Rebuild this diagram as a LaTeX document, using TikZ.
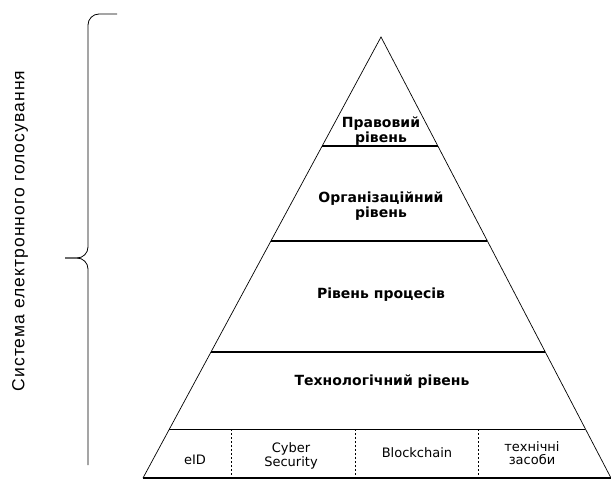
\documentclass[tikz,border=0pt]{standalone}
\usepackage{fontspec}
\setmainfont{DejaVu Sans}
\newfontfamily\sidefont[LetterSpace=6]{Liberation Sans}
\usepackage{tikz}
\usetikzlibrary{calc,positioning}

\begin{document}
\begin{tikzpicture}[
        x=1pt, y=-1pt,
        level/.style={font=\bfseries\fontsize{14}{15.5}\selectfont, align=center, inner sep=1pt},
        tech/.style={font=\fontsize{13}{13.5}\selectfont, align=center, inner sep=1pt},
        bar/.style={line width=1.6pt},
        split/.style={dash pattern=on 2pt off 2pt, line width=0.6pt}
    ]
    \useasboundingbox (0,0) rectangle (611,495);

    % Pyramid
    \coordinate (apex) at (381,37);
    \coordinate (bl) at (143,478);
    \coordinate (br) at (611,478);
    \draw[line width=0.7pt] (bl) -- (apex) -- (br);
    \draw[line width=1.1pt] (bl) -- (br);

    % Level borders
    \draw[bar] ($(apex)!0.247!(bl)$) -- ($(apex)!0.247!(br)$);
    \draw[bar] ($(apex)!0.4626!(bl)$) -- ($(apex)!0.4626!(br)$);
    \draw[bar] ($(apex)!0.714!(bl)$) -- ($(apex)!0.714!(br)$);
    \draw[line width=0.6pt] ($(apex)!0.889!(bl)$) -- ($(apex)!0.889!(br)$);

    % Levels
    \node[level] (legal) at (381,131) {Правовий\\рівень};
    \node[level] (org) at (381,206) {Організаційний\\рівень};
    \node[level] (proc) at (381,295) {Рівень процесів};
    \node[level] (techlevel) at (382,382) {Технологічний рівень};

    % Technical means
    \draw[split] (231,429) -- (231,478);
    \draw[split] (355,429) -- (355,478);
    \draw[split] (478,429) -- (478,478);
    \node[tech] (eid) at (195,460) {eID};
    \node[tech] (cyber) at (291,456) {Cyber\\Security};
    \node[tech] (chain) at (417,453) {Blockchain};
    \node[tech] (means) at (532,453) {технічні\\засоби};

    % Brace
    \draw[line width=0.8pt] (117,14) -- (99,14) to[out=180,in=90] (88,25) -- (88,247)
        to[out=-90,in=0] (77,258) -- (65,258);
    \draw[line width=0.8pt] (65,258) -- (77,258) to[out=0,in=90] (88,269) -- (88,465);

    % System label
    \node[rotate=90, font=\sidefont\fontsize{17.5}{18}\selectfont] (system) at (20,231) {Система електронного голосування};

\end{tikzpicture}
\end{document}
